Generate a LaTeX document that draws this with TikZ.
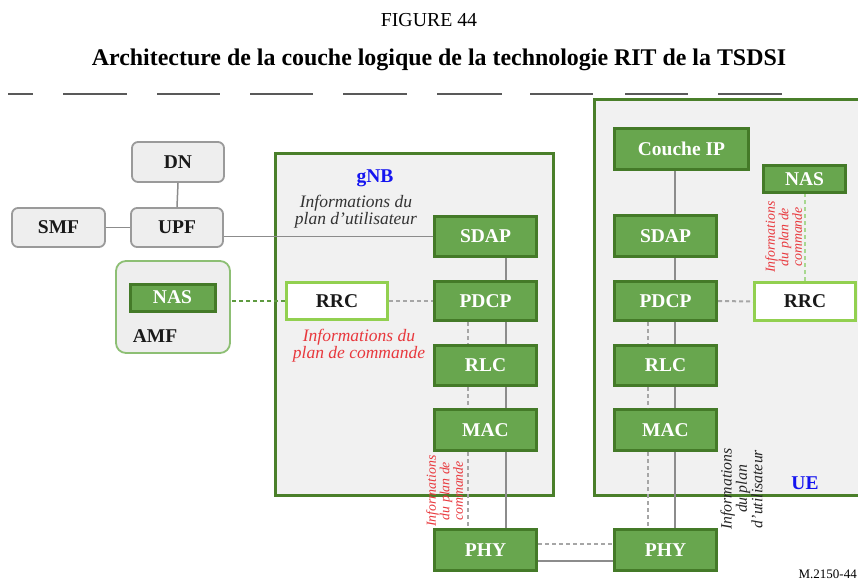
\documentclass[tikz,border=0pt]{standalone}
\usepackage{fontspec}
\setmainfont{Liberation Serif}
\usetikzlibrary{calc}
\definecolor{gfill}{HTML}{68A64E}
\definecolor{gdraw}{HTML}{447A28}
\definecolor{cdraw}{HTML}{4A7F2A}
\definecolor{lgreen}{HTML}{92D050}
\definecolor{amfdraw}{HTML}{8DBF74}
\definecolor{boxgray}{HTML}{EEEEEE}
\definecolor{bordergray}{HTML}{9A9A9A}
\definecolor{contfill}{HTML}{F1F1F1}
\definecolor{redtxt}{HTML}{E8383D}
\definecolor{bluetxt}{HTML}{1414F0}
\definecolor{gdash}{HTML}{5E9A40}
\definecolor{ldash}{HTML}{A8D890}
\tikzset{
  lbl/.style={font=\fontsize{19.5}{20}\selectfont\bfseries},
  gbox/.style={lbl, draw=gdraw, fill=gfill, line width=3pt, text=white, inner sep=0pt},
  graybox/.style={lbl, draw=bordergray, fill=boxgray, line width=1.8pt, rounded corners=6pt, text=black!90, inner sep=0pt},
  rrcbox/.style={lbl, draw=lgreen, fill=white, line width=3pt, text=black!90, inner sep=0pt},
  container/.style={draw=cdraw, fill=contfill, line width=3pt, inner sep=0pt},
  solidc/.style={draw=black!45, line width=1.5pt},
  dashc/.style={draw=black!35, line width=2pt, dash pattern=on 4pt off 3pt},
  gdashc/.style={draw=gdash, line width=2pt, dash pattern=on 4pt off 3pt},
  ldashc/.style={draw=ldash, line width=1.5pt, dash pattern=on 4pt off 3pt},
  note/.style={font=\fontsize{17.5}{15.5}\selectfont\itshape, align=center, inner sep=0pt},
  rnote/.style={font=\fontsize{13.8}{12}\selectfont\itshape, align=center, inner sep=0pt, rotate=90},
  artif/.style={draw=black!65, line width=1.2pt}
}
\begin{document}
\begin{tikzpicture}[x=1pt,y=-1pt]
\useasboundingbox (0,0) rectangle (858,582);
\clip (0,0) rectangle (858,582);
% titles
\node[font=\fontsize{19.8}{20}\selectfont] (fig) at (429,20) {FIGURE 44};
\node[font=\fontsize{23.9}{26}\selectfont\bfseries] (title) at (439,60) {Architecture de la couche logique de la technologie RIT de la TSDSI};
% artefact strip
\foreach \a/\b in {8/33,63/127,157/220,250/313,343/407,437/502,530/593,625/688,718/782}
  \draw[artif] (\a,94) -- (\b,94);
% containers
\node[container, minimum width=278pt, minimum height=342pt] (gnb) at (414.5,324.5) {};
\node[container, minimum width=275pt, minimum height=396pt] (ue) at (732,297.5) {};
\node[font=\fontsize{19.5}{20}\selectfont\bfseries, text=bluetxt] (gnblbl) at (375,178) {gNB};
\node[font=\fontsize{19.5}{20}\selectfont\bfseries, text=bluetxt] (uelbl) at (805,483) {UE};
% core network
\node[graybox, minimum width=92pt, minimum height=40pt] (dn) at (178,162) {DN};
\node[graybox, minimum width=93pt, minimum height=39pt] (smf) at (58.5,227.5) {SMF};
\node[graybox, minimum width=92pt, minimum height=39pt] (upf) at (177,227.5) {UPF};
\node[draw=amfdraw, fill=boxgray, line width=1.8pt, rounded corners=10pt, minimum width=114pt, minimum height=92pt, inner sep=0pt] (amf) at (173,307) {};
\node[gbox, minimum width=85pt, minimum height=27pt] (nasamf) at (172.5,297.5) {NAS};
\node[lbl, text=black!90, inner sep=0pt] (amflbl) at (155,336) {AMF};
% gNB stack
\node[gbox, minimum width=102pt, minimum height=40pt] (sdapg) at (485.5,236.5) {SDAP};
\node[gbox, minimum width=102pt, minimum height=39pt] (pdcpg) at (485.5,301) {PDCP};
\node[gbox, minimum width=102pt, minimum height=40pt] (rlcg) at (485.5,365.5) {RLC};
\node[gbox, minimum width=102pt, minimum height=41pt] (macg) at (485.5,430) {MAC};
\node[gbox, minimum width=102pt, minimum height=41pt] (phyg) at (485.5,550) {PHY};
\node[rrcbox, minimum width=101pt, minimum height=37pt] (rrcg) at (337,301) {RRC};
% UE stack
\node[gbox, minimum width=134pt, minimum height=41pt] (ip) at (681.5,149) {Couche IP};
\node[gbox, minimum width=82pt, minimum height=27pt] (nasu) at (804.5,179) {NAS};
\node[gbox, minimum width=102pt, minimum height=41pt] (sdapu) at (665.5,236) {SDAP};
\node[gbox, minimum width=102pt, minimum height=39pt] (pdcpu) at (665.5,301) {PDCP};
\node[gbox, minimum width=102pt, minimum height=40pt] (rlcu) at (665.5,365.5) {RLC};
\node[gbox, minimum width=102pt, minimum height=41pt] (macu) at (665.5,430) {MAC};
\node[gbox, minimum width=102pt, minimum height=41pt] (phyu) at (665.5,550) {PHY};
\node[rrcbox, minimum width=101pt, minimum height=38pt] (rrcu) at (805,301.5) {RRC};
% notes
\node[note, text=black!80] (upnote) at (356,211.5) {Informations du\\plan d'utilisateur};
\node[note, text=redtxt] (cpnote) at (359,346) {Informations du\\plan de commande};
\node[rnote, text=redtxt] (cpnoteg) at (444.5,491) {Informations\\du plan de\\commande};
\node[rnote, text=redtxt] (cpnoteu) at (783.5,237) {Informations\\du plan de\\commande};
\node[rnote, font=\fontsize{15.8}{14}\selectfont\itshape, text=black!85] (upnoteu) at (741.5,489) {Informations\\du plan\\d'utilisateur};
\node[font=\fontsize{13}{14}\selectfont, anchor=east, inner sep=0pt] (ref) at (857,574) {M.2150-44};
% core connectors
\draw[solidc] (dn.south) -- (upf.north);
\draw[solidc] (smf.east) -- (upf.west);
\draw[solidc] (sdapg.west) -- (sdapg.west -| upf.east);
\draw[gdashc] (rrcg.west) -- (rrcg.west -| amf.east);
% gNB connectors
\draw[dashc] (rrcg.east) -- (pdcpg.west);
\draw[solidc] ([xshift=20.5pt]sdapg.south) -- ([xshift=20.5pt]pdcpg.north);
\draw[solidc] ([xshift=20.5pt]pdcpg.south) -- ([xshift=20.5pt]rlcg.north);
\draw[solidc] ([xshift=20.5pt]rlcg.south) -- ([xshift=20.5pt]macg.north);
\draw[solidc] ([xshift=20.5pt]macg.south) -- ([xshift=20.5pt]phyg.north);
\draw[dashc] ([xshift=-17.5pt]pdcpg.south) -- ([xshift=-17.5pt]rlcg.north);
\draw[dashc] ([xshift=-17.5pt]rlcg.south) -- ([xshift=-17.5pt]macg.north);
\draw[dashc] ([xshift=-17.5pt]macg.south) -- ([xshift=-17.5pt]phyg.north);
% UE connectors
\draw[solidc] ([xshift=9.5pt]sdapu.north) -- ([xshift=9.5pt]sdapu.north |- ip.south);
\draw[solidc] ([xshift=9.5pt]sdapu.south) -- ([xshift=9.5pt]pdcpu.north);
\draw[solidc] ([xshift=9.5pt]pdcpu.south) -- ([xshift=9.5pt]rlcu.north);
\draw[solidc] ([xshift=9.5pt]rlcu.south) -- ([xshift=9.5pt]macu.north);
\draw[solidc] ([xshift=9.5pt]macu.south) -- ([xshift=9.5pt]phyu.north);
\draw[dashc] ([xshift=-17.5pt]pdcpu.south) -- ([xshift=-17.5pt]rlcu.north);
\draw[dashc] ([xshift=-17.5pt]rlcu.south) -- ([xshift=-17.5pt]macu.north);
\draw[dashc] ([xshift=-17.5pt]macu.south) -- ([xshift=-17.5pt]phyu.north);
\draw[dashc] (pdcpu.east) -- (rrcu.west);
\draw[ldashc] (rrcu.north) -- (rrcu.north |- nasu.south);
% PHY to PHY
\draw[dashc] ([yshift=6pt]phyg.east) -- ([yshift=6pt]phyu.west);
\draw[solidc] ([yshift=-11pt]phyg.east) -- ([yshift=-11pt]phyu.west);
\end{tikzpicture}
\end{document}
